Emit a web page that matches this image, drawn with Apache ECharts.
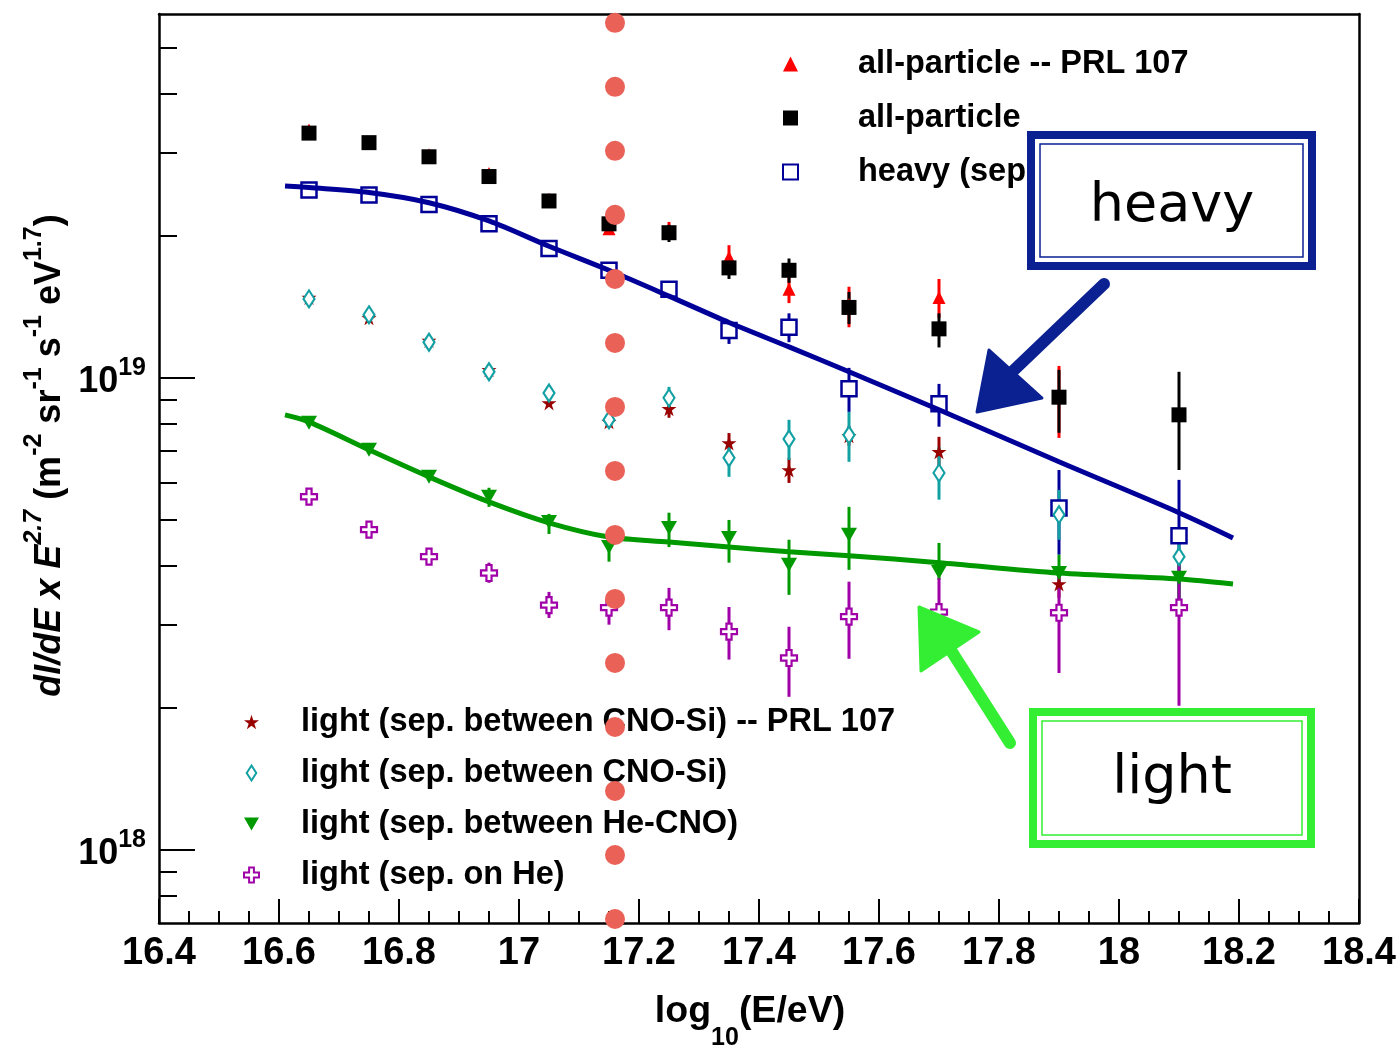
<!DOCTYPE html>
<html>
<head>
<meta charset="utf-8">
<script src="https://cdn.jsdelivr.net/npm/echarts@6/dist/echarts.min.js"></script>
<style>
  html, body { margin: 0; padding: 0; background: #fff; }
  #chart { width: 1400px; height: 1046px; }
</style>
</head>
<body>
<div id="chart"></div>
<script>
// ---- energy bins, log10(E/eV) ----
const energy = [16.65, 16.75, 16.85, 16.95, 17.05, 17.15, 17.25, 17.35, 17.45, 17.55, 17.7, 17.9, 18.1];
const energyPRL = [16.65, 16.75, 16.85, 16.95, 17.05, 17.15, 17.25, 17.35, 17.45, 17.55, 17.7, 17.9];

// ---- flux x E^2.7  (m^-2 sr^-1 s^-1 eV^1.7) ----
const allPRL   = [3.35e19, 3.15e19, 2.97e19, 2.71e19, 2.39e19, 2.07e19, 2.04e19, 1.80e19, 1.54e19, 1.43e19, 1.48e19, 9.1e18];
const allPRLLo = [null, null, null, null, null, null, 1.96e19, 1.69e19, 1.44e19, 1.28e19, 1.34e19, 7.46e18];
const allPRLHi = [null, null, null, null, null, null, 2.14e19, 1.91e19, 1.63e19, 1.56e19, 1.62e19, 1.06e19];

const allPart   = [3.30e19, 3.15e19, 2.94e19, 2.67e19, 2.37e19, 2.12e19, 2.03e19, 1.71e19, 1.69e19, 1.41e19, 1.27e19, 9.1e18, 8.35e18];
const allPartLo = [null, null, null, null, null, 2.05e19, 1.94e19, 1.62e19, 1.59e19, 1.30e19, 1.16e19, 7.65e18, 6.38e18];
const allPartHi = [null, null, null, null, null, 2.19e19, 2.11e19, 1.78e19, 1.79e19, 1.52e19, 1.37e19, 1.04e19, 1.03e19];

const heavy   = [2.50e19, 2.44e19, 2.33e19, 2.12e19, 1.88e19, 1.69e19, 1.54e19, 1.26e19, 1.28e19, 9.48e18, 8.81e18, 5.30e18, 4.63e18];
const heavyLo = [null, null, null, null, null, null, null, 1.18e19, 1.19e19, 8.47e18, 7.88e18, 4.22e18, 3.18e18];
const heavyHi = [null, null, null, null, null, null, null, 1.31e19, 1.37e19, 1.05e19, 9.71e18, 6.38e18, 6.08e18];

const lightPRL   = [1.48e19, 1.34e19, 1.20e19, 1.04e19, 8.85e18, 8.07e18, 8.60e18, 7.28e18, 6.38e18, 7.54e18, 6.97e18, 3.66e18];
const lightPRLLo = [null, null, null, null, null, null, 8.23e18, 6.94e18, 5.99e18, 7.18e18, 6.45e18, 3.42e18];
const lightPRLHi = [null, null, null, null, null, null, 8.98e18, 7.64e18, 6.77e18, 7.91e18, 7.50e18, 3.88e18];

const lightCNOSi   = [1.47e19, 1.36e19, 1.19e19, 1.03e19, 9.29e18, 8.15e18, 9.07e18, 6.77e18, 7.42e18, 7.57e18, 6.29e18, 5.13e18, 4.18e18];
const lightCNOSiLo = [null, null, null, null, null, null, 8.68e18, 6.17e18, 6.70e18, 6.64e18, 5.52e18, 4.54e18, 3.64e18];
const lightCNOSiHi = [null, null, null, null, null, null, 9.57e18, 7.25e18, 8.15e18, 8.47e18, 7.14e18, 5.79e18, 4.77e18];

const lightHeCNO   = [8.03e18, 7.04e18, 6.17e18, 5.60e18, 4.95e18, 4.38e18, 4.81e18, 4.58e18, 4.02e18, 4.65e18, 3.88e18, 3.86e18, 3.77e18];
const lightHeCNOLo = [null, null, null, 5.33e18, 4.67e18, 4.08e18, 4.38e18, 4.06e18, 3.47e18, 3.92e18, 3.73e18, 3.56e18, 3.39e18];
const lightHeCNOHi = [null, null, null, 5.85e18, 5.15e18, 4.58e18, 5.18e18, 5.00e18, 4.54e18, 5.33e18, 4.47e18, 4.22e18, 4.11e18];

const lightHe   = [5.60e18, 4.77e18, 4.18e18, 3.86e18, 3.30e18, 3.26e18, 3.26e18, 2.90e18, 2.55e18, 3.12e18, 3.19e18, 3.18e18, 3.26e18];
const lightHeLo = [null, null, null, 3.68e18, 3.10e18, 3.00e18, 2.92e18, 2.53e18, 2.11e18, 2.54e18, 2.59e18, 2.37e18, 2.02e18];
const lightHeHi = [null, null, null, 4.06e18, 3.52e18, 3.39e18, 3.59e18, 3.27e18, 2.97e18, 3.70e18, 3.77e18, 3.98e18, 4.02e18];

// ---- fitted spectra ----
const fitX       = [16.61, 16.65, 16.75, 16.85, 16.95, 17.05, 17.15, 17.25, 17.35, 17.45, 17.55, 17.7, 17.9, 18.1, 18.19];
const heavyFit   = [2.55e19, 2.53e19, 2.47e19, 2.35e19, 2.15e19, 1.90e19, 1.69e19, 1.49e19, 1.31e19, 1.163e19, 1.03e19, 8.56e18, 6.64e18, 5.18e18, 4.58e18];
const lightFit   = [8.35e18, 8.07e18, 7.04e18, 6.17e18, 5.46e18, 4.93e18, 4.60e18, 4.49e18, 4.38e18, 4.28e18, 4.20e18, 4.06e18, 3.86e18, 3.75e18, 3.66e18];

// ---- axes ----
const xTicks = [16.4, 16.6, 16.8, 17, 17.2, 17.4, 17.6, 17.8, 18, 18.2, 18.4];
const yMin = 7.0e17, yMax = 5.9e19;
const yMajor = [1e18, 1e19];
const yMinor = [8e17, 9e17, 2e18, 3e18, 4e18, 5e18, 6e18, 7e18, 8e18, 9e18, 2e19, 3e19, 4e19, 5e19];
const kneeMark = 17.157;   // position of the dotted vertical line

// ---- names ----
const legendTop = ['all-particle -- PRL 107', 'all-particle', 'heavy (sep. between CNO-Si)'];
const legendBottom = ['light (sep. between CNO-Si) -- PRL 107', 'light (sep. between CNO-Si)', 'light (sep. between He-CNO)', 'light (sep. on He)'];

const SANS = '"Liberation Sans", Arial, sans-serif';

const lg = Math.log10;
function points(xs, ys) {
  const out = [];
  xs.forEach((x, i) => { if (ys[i] != null) out.push([x, lg(ys[i])]); });
  return out;
}
function errs(xs, lo, hi) {
  const out = [];
  xs.forEach((x, i) => { if (lo[i] != null && hi[i] != null) out.push([x, lg(lo[i]), lg(hi[i])]); });
  return out;
}
function errorBars(data, color, width) {
  return {
    type: 'custom', silent: true, data: data,
    encode: { x: 0, y: [1, 2] },
    renderItem: function (params, api) {
      const a = api.coord([api.value(0), api.value(1)]);
      const b = api.coord([api.value(0), api.value(2)]);
      return { type: 'line', shape: { x1: a[0], y1: a[1], x2: b[0], y2: b[1] },
               style: { stroke: color, lineWidth: width || 3 } };
    }
  };
}
function markers(name, data, opts) {
  const s = Object.assign({ type: 'scatter', name: name, data: data, silent: true }, opts);
  s.itemStyle = Object.assign({ opacity: 1 }, s.itemStyle);
  return s;
}

// marker shapes
const STAR = 'path://M50,0 L61.17,34.63 L97.55,34.55 L68.07,55.87 L79.39,90.45 L50,69 L20.61,90.45 L31.93,55.87 L2.45,34.55 L38.83,34.63 Z';
const CROSS = 'path://M34,0 H66 V34 H100 V66 H66 V100 H34 V66 H0 V34 H34 Z';
const DOWN = 'path://M0,0 L100,0 L50,88 Z';
const TALL_DIAMOND = 'path://M32,0 L64,50 L32,100 L0,50 Z';

const C = { red: '#ff0000', black: '#000000', blue: '#000099', star: '#990000', teal: '#13a0a3', green: '#009900', purple: '#a000a8' };

const series = [
  { type: 'line', data: points(fitX, heavyFit), symbol: 'none', smooth: 0.3, silent: true,
    lineStyle: { color: C.blue, width: 5 } },
  { type: 'line', data: points(fitX, lightFit), symbol: 'none', smooth: 0.3, silent: true,
    lineStyle: { color: C.green, width: 5 } },

  errorBars(errs(energyPRL, allPRLLo, allPRLHi), C.red),
  markers(legendTop[0], points(energyPRL, allPRL), { symbol: 'triangle', symbolSize: 13, itemStyle: { color: C.red } }),
  errorBars(errs(energy, allPartLo, allPartHi), C.black),
  markers(legendTop[1], points(energy, allPart), { symbol: 'rect', symbolSize: 15, itemStyle: { color: C.black } }),
  errorBars(errs(energy, heavyLo, heavyHi), C.blue),
  markers(legendTop[2], points(energy, heavy), { symbol: 'rect', symbolSize: 15,
    itemStyle: { color: '#ffffff', borderColor: C.blue, borderWidth: 2.5 } }),

  errorBars(errs(energyPRL, lightPRLLo, lightPRLHi), C.star),
  markers(legendBottom[0], points(energyPRL, lightPRL), { symbol: STAR, symbolSize: 15, itemStyle: { color: C.star } }),
  errorBars(errs(energy, lightCNOSiLo, lightCNOSiHi), C.teal),
  markers(legendBottom[1], points(energy, lightCNOSi), { symbol: TALL_DIAMOND, symbolSize: [11, 17],
    itemStyle: { color: '#ffffff', borderColor: C.teal, borderWidth: 2.2 } }),
  errorBars(errs(energy, lightHeCNOLo, lightHeCNOHi), C.green),
  markers(legendBottom[2], points(energy, lightHeCNO), { symbol: DOWN, symbolSize: [16, 14],
    itemStyle: { color: C.green } }),
  errorBars(errs(energy, lightHeLo, lightHeHi), C.purple),
  markers(legendBottom[3], points(energy, lightHe), { symbol: CROSS, symbolSize: 16,
    itemStyle: { color: '#ffffff', borderColor: C.purple, borderWidth: 2.2 } }),

  // dotted vertical marker line
  { type: 'scatter', data: [], z: 6, silent: true,
    markLine: {
      silent: true, symbol: ['none', 'none'], z: 6,
      label: { show: false }, emphasis: { disabled: true },
      lineStyle: { color: '#ea6158', width: 20, type: [0.01, 64], dashOffset: 60, cap: 'round', opacity: 1 },
      data: [{ xAxis: kneeMark }]
    } }
];

function legendText(indent) {
  return { fontFamily: SANS, fontSize: 32.5, fontWeight: 'bold', color: '#000', lineHeight: 40, padding: [0, 0, 0, indent] };
}

const titleRich = {
  i:  { fontFamily: SANS, fontStyle: 'italic', fontWeight: 'bold', fontSize: 36, lineHeight: 46, verticalAlign: 'bottom', color: '#000' },
  is: { fontFamily: SANS, fontStyle: 'italic', fontWeight: 'bold', fontSize: 25, lineHeight: 24, verticalAlign: 'top', color: '#000' },
  n:  { fontFamily: SANS, fontWeight: 'bold', fontSize: 36, lineHeight: 46, verticalAlign: 'bottom', color: '#000' },
  s:  { fontFamily: SANS, fontWeight: 'bold', fontSize: 25, lineHeight: 24, verticalAlign: 'top', color: '#000' }
};

const option = {
  animation: false,
  backgroundColor: '#ffffff',
  grid: { left: 159, right: 41, top: 14, bottom: 123, containLabel: false, outerBoundsMode: 'none' },
  legend: [
    { orient: 'vertical', left: 782, top: 44, padding: 0, itemWidth: 15, itemHeight: 15, itemGap: 14,
      selectedMode: false, data: legendTop, textStyle: legendText(55) },
    { orient: 'vertical', left: 243, top: 702, padding: 0, itemWidth: 15, itemHeight: 15, itemGap: 11,
      selectedMode: false, data: legendBottom, textStyle: legendText(37) }
  ],
  xAxis: [
    { type: 'value', position: 'bottom', min: xTicks[0], max: xTicks[xTicks.length - 1], interval: 0.2,
      axisLine: { show: true, onZero: false, lineStyle: { color: '#000', width: 2.5 } },
      axisTick: { show: true, inside: true, length: 24, lineStyle: { color: '#000', width: 2 } },
      minorTick: { show: true, splitNumber: 4, length: 12, lineStyle: { color: '#000', width: 2 } },
      splitLine: { show: false },
      axisLabel: { margin: 12, fontFamily: SANS, fontSize: 38, fontWeight: 'bold', color: '#000',
        formatter: v => String(Math.round(v * 10) / 10) },
      name: '{b|log}{sub|10}{b|(E/eV)}', nameLocation: 'middle', nameGap: 70, nameMoveOverlap: false,
      nameTextStyle: { padding: [0, 18, 0, 0], rich: {
        b:   { fontFamily: SANS, fontWeight: 'bold', fontSize: 37.5, lineHeight: 42, verticalAlign: 'top', color: '#000' },
        sub: { fontFamily: SANS, fontWeight: 'bold', fontSize: 25, lineHeight: 58, verticalAlign: 'bottom', color: '#000' }
      } } },
    { type: 'value', position: 'top', min: xTicks[0], max: xTicks[xTicks.length - 1], interval: 0.2,
      axisLine: { show: true, onZero: false, lineStyle: { color: '#000', width: 2.5 } },
      axisTick: { show: false }, axisLabel: { show: false }, splitLine: { show: false } }
  ],
  yAxis: [
    { type: 'value', position: 'left', min: lg(yMin), max: lg(yMax),
      axisLine: { show: true, onZero: false, lineStyle: { color: '#000', width: 2.5 } },
      axisTick: { show: true, inside: true, length: 36, customValues: yMajor.map(lg), lineStyle: { color: '#000', width: 2 } },
      splitLine: { show: false },
      axisLabel: { customValues: yMajor.map(lg), margin: 13,
        formatter: v => '{b|10}{s|' + Math.round(v) + '}',
        rich: {
          b: { fontFamily: SANS, fontWeight: 'bold', fontSize: 36, lineHeight: 44, verticalAlign: 'bottom', color: '#000' },
          s: { fontFamily: SANS, fontWeight: 'bold', fontSize: 25, lineHeight: 26, verticalAlign: 'top', color: '#000' }
        } },
      name: '{i|dI/dE x E}{is|2.7}{n| (m}{s|-2}{n| sr}{s|-1}{n| s}{s|-1}{n| eV}{s|1.7}{n|)}',
      nameLocation: 'middle', nameRotate: 90, nameGap: 91, nameMoveOverlap: false,
      nameTextStyle: { padding: [0, 0, 0, 26], rich: titleRich } },
    { type: 'value', position: 'left', min: lg(yMin), max: lg(yMax),
      axisLine: { show: false },
      axisTick: { show: true, inside: true, length: 18, customValues: yMinor.map(lg), lineStyle: { color: '#000', width: 2 } },
      axisLabel: { show: false }, splitLine: { show: false } },
    { type: 'value', position: 'right', min: lg(yMin), max: lg(yMax),
      axisLine: { show: true, onZero: false, lineStyle: { color: '#000', width: 2.5 } },
      axisTick: { show: false }, axisLabel: { show: false }, splitLine: { show: false } }
  ],
  series: series,
  graphic: [
    // "heavy" call-out
    { type: 'rect', z: 100, shape: { x: 1031, y: 135, width: 281, height: 131 },
      style: { fill: '#ffffff', stroke: '#0b2192', lineWidth: 8 } },
    { type: 'rect', z: 101, shape: { x: 1040, y: 144, width: 263, height: 113 },
      style: { fill: 'none', stroke: '#0b2192', lineWidth: 1.5 } },
    { type: 'text', z: 102, style: { text: 'heavy', x: 1172, y: 207, textAlign: 'center', textVerticalAlign: 'middle',
      fontFamily: '"DejaVu Sans", sans-serif', fontSize: 54, fill: '#000' } },
    { type: 'polyline', z: 100, shape: { points: [[1104, 284], [1012, 372]] },
      style: { stroke: '#0b2192', lineWidth: 12, lineCap: 'round' } },
    { type: 'polygon', z: 100, shape: { points: [[989, 350], [1042, 398], [977, 412]] },
      style: { fill: '#0b2192', stroke: '#0b2192', lineWidth: 3, lineJoin: 'round' } },

    // "light" call-out
    { type: 'rect', z: 100, shape: { x: 1033, y: 712, width: 278, height: 132 },
      style: { fill: '#ffffff', stroke: '#33ee33', lineWidth: 8 } },
    { type: 'rect', z: 101, shape: { x: 1042, y: 721, width: 260, height: 114 },
      style: { fill: 'none', stroke: '#33ee33', lineWidth: 1.5 } },
    { type: 'text', z: 102, style: { text: 'light', x: 1172, y: 779, textAlign: 'center', textVerticalAlign: 'middle',
      fontFamily: '"DejaVu Sans", sans-serif', fontSize: 54, fill: '#000' } },
    { type: 'polyline', z: 100, shape: { points: [[1010, 743], [952, 652]] },
      style: { stroke: '#33ee33', lineWidth: 12, lineCap: 'round' } },
    { type: 'polygon', z: 100, shape: { points: [[919, 607], [979, 632], [921, 671]] },
      style: { fill: '#33ee33', stroke: '#33ee33', lineWidth: 3, lineJoin: 'round' } }
  ]
};

const chart = echarts.init(document.getElementById('chart'), null, { renderer: 'canvas' });
chart.setOption(option);
</script>
</body>
</html>
